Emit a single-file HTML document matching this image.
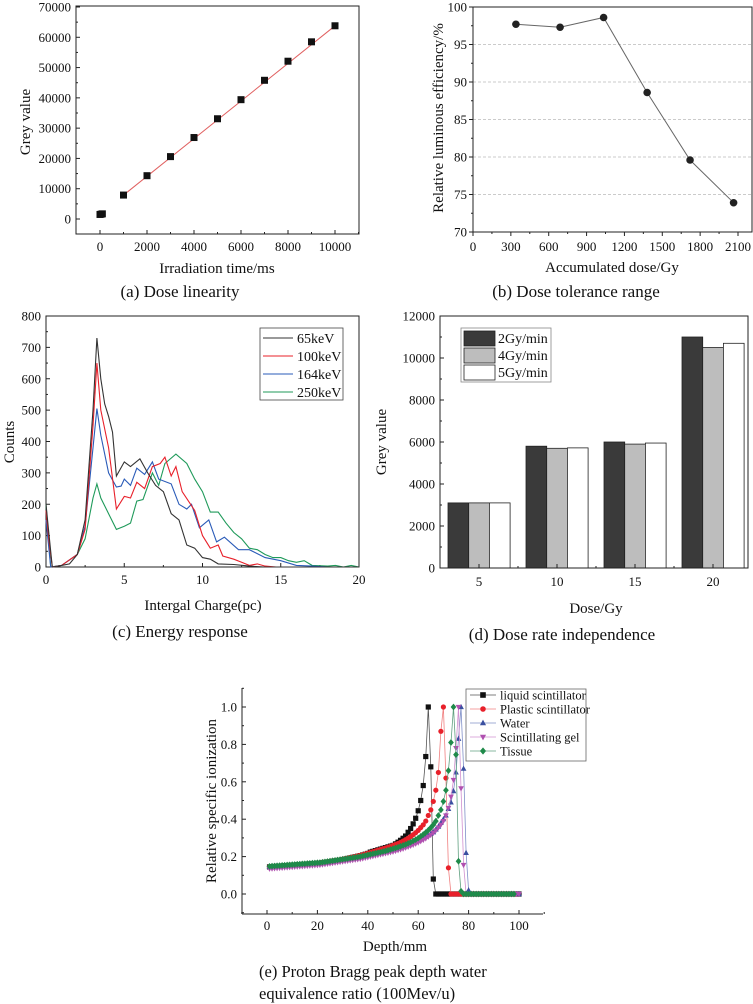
<!DOCTYPE html>
<html><head><meta charset="utf-8"><style>
html,body{margin:0;padding:0;background:#fff}
svg{display:block;font-family:"Liberation Serif",serif}
</style></head><body>
<svg id="fig" width="753" height="1004" viewBox="0 0 753 1004" xmlns="http://www.w3.org/2000/svg"></svg>
<script>
// ---- Panel (a) data ----
const aTime=[0,50,100,1000,2000,3000,4000,5000,6000,7000,8000,9000,10000];
const aGrey=[1500,1600,1700,7900,14300,20600,26900,33100,39400,45800,52100,58500,63800];
const aFitX=[1000,10000];
const aFitY=[7900,63800];
const aXTicks=[0,2000,4000,6000,8000,10000];
const aYTicks=[0,10000,20000,30000,40000,50000,60000,70000];
// ---- Panel (b) data ----
const bDose=[340,690,1035,1380,1720,2065];
const bEff=[97.7,97.3,98.6,88.6,79.6,73.9];
const bXTicks=[0,300,600,900,1200,1500,1800,2100];
const bYTicks=[70,75,80,85,90,95,100];
// ---- Panel (c) data ----
const cNames=["65keV","100keV","164keV","250keV"];
const c65x=[0,0.2,0.4,1,1.5,2,2.5,3,3.25,3.5,3.75,4,4.25,4.5,5,5.4,6,6.5,7,7.5,8,8.5,9,9.5,10,10.5,11,12,13,14,20];
const c65y=[200,100,0,5,10,40,150,500,730,600,520,480,430,290,335,320,345,300,260,240,170,150,70,60,30,25,10,8,3,0,0];
const c100x=[0,0.2,0.4,1,2,2.5,3,3.25,3.5,4,4.5,5,5.4,5.8,6.3,6.8,7.3,7.6,8,8.3,8.7,9.5,10,10.5,11,11.3,12,12.5,13,13.5,14,14.7,20];
const c100y=[180,80,0,5,40,120,450,650,500,380,185,225,220,270,250,320,330,350,290,320,240,180,100,60,70,35,25,15,5,10,3,0,0];
const c164x=[0,0.3,1,2,2.5,3,3.25,3.5,4,4.5,4.8,5,5.4,5.8,6.3,6.8,7.2,8,8.5,9,9.3,9.8,10.4,10.9,11.4,12.3,13,14,15,16,17,18,20];
const c164y=[150,0,5,40,130,380,505,420,300,255,258,280,260,315,295,335,280,265,200,185,200,125,150,80,95,55,55,30,20,5,3,0,0];
const c250x=[0,0.3,1,2,2.5,3,3.25,3.5,4,4.5,5,5.4,5.8,6.2,6.8,7.2,7.6,8.3,9,9.5,10,10.5,11,11.5,12,12.5,13,13.5,14,14.5,15,15.5,16,16.5,17,18,18.5,19,19.5,20];
const c250y=[200,0,5,40,90,220,265,220,170,120,130,140,210,215,300,260,330,360,330,280,240,175,175,140,110,90,60,55,40,30,30,20,15,20,5,3,5,0,5,0];
const cXTicks=[0,5,10,15,20];
const cYTicks=[0,100,200,300,400,500,600,700,800];
// ---- Panel (d) data ----
const dDose=[5,10,15,20];
const dRates=["2Gy/min","4Gy/min","5Gy/min"];
const d2=[3100,5800,6000,11000];
const d4=[3100,5700,5900,10500];
const d5=[3100,5720,5950,10700];
const dYTicks=[0,2000,4000,6000,8000,10000,12000];
// ---- Panel (e) data (depth 1..100 mm) ----
const eNames=["liquid scintillator","Plastic scintillator","Water","Scintillating gel","Tissue"];
const eLiquid=[0.145,0.146,0.147,0.148,0.149,0.150,0.151,0.152,0.153,0.154,0.155,0.156,0.157,0.158,0.159,0.160,0.161,0.162,0.163,0.164,0.165,0.167,0.169,0.171,0.173,0.175,0.177,0.179,0.181,0.184,0.187,0.190,0.193,0.196,0.199,0.202,0.205,0.209,0.213,0.217,0.224,0.228,0.232,0.236,0.240,0.244,0.248,0.252,0.256,0.260,0.268,0.277,0.287,0.298,0.31,0.33,0.35,0.375,0.405,0.445,0.5,0.58,0.735,1.0,0.68,0.08,0,0,0,0,0,0,0,0,0,0,0,0,0,0,0,0,0,0,0,0,0,0,0,0,0,0,0,0,0,0,0,0,0,0];
const ePlastic=[0.145,0.146,0.147,0.148,0.149,0.150,0.151,0.152,0.153,0.154,0.155,0.156,0.157,0.158,0.159,0.160,0.161,0.162,0.163,0.164,0.165,0.167,0.169,0.171,0.173,0.175,0.177,0.179,0.181,0.183,0.186,0.189,0.192,0.195,0.198,0.201,0.204,0.207,0.210,0.214,0.218,0.222,0.226,0.230,0.234,0.238,0.242,0.246,0.250,0.255,0.260,0.265,0.270,0.276,0.283,0.290,0.298,0.307,0.317,0.328,0.340,0.355,0.370,0.39,0.42,0.45,0.495,0.555,0.65,0.87,1.0,0.62,0.14,0,0,0,0,0,0,0,0,0,0,0,0,0,0,0,0,0,0,0,0,0,0,0,0,0,0,0].slice(1);
const eWater=[0.145,0.146,0.147,0.148,0.149,0.150,0.151,0.152,0.153,0.154,0.155,0.156,0.157,0.158,0.159,0.160,0.161,0.162,0.163,0.164,0.165,0.167,0.169,0.171,0.173,0.175,0.177,0.179,0.181,0.183,0.185,0.187,0.189,0.191,0.193,0.195,0.197,0.200,0.203,0.206,0.209,0.212,0.215,0.218,0.221,0.224,0.227,0.230,0.233,0.236,0.240,0.244,0.248,0.252,0.257,0.262,0.267,0.273,0.279,0.285,0.292,0.299,0.306,0.314,0.322,0.33,0.345,0.36,0.38,0.40,0.42,0.455,0.49,0.55,0.65,0.83,1.0,0.67,0.22,0.02,0,0,0,0,0,0,0,0,0,0,0,0,0,0,0,0,0,0,0,0].slice(0,100);
const eGel=[0.135,0.136,0.137,0.138,0.139,0.140,0.141,0.142,0.143,0.144,0.145,0.146,0.147,0.148,0.149,0.150,0.151,0.152,0.153,0.154,0.155,0.157,0.159,0.161,0.163,0.165,0.167,0.169,0.171,0.173,0.175,0.177,0.179,0.181,0.183,0.185,0.187,0.190,0.193,0.196,0.199,0.202,0.205,0.208,0.211,0.214,0.217,0.220,0.223,0.226,0.230,0.234,0.238,0.242,0.247,0.252,0.257,0.263,0.269,0.275,0.282,0.289,0.297,0.306,0.316,0.327,0.34,0.355,0.37,0.39,0.42,0.46,0.52,0.61,0.78,1.0,0.565,0.155,0,0,0,0,0,0,0,0,0,0,0,0,0,0,0,0,0,0,0,0,0,0].slice(0,100);
const eTissue=[0.148,0.149,0.150,0.151,0.152,0.153,0.154,0.155,0.156,0.157,0.158,0.159,0.160,0.161,0.162,0.163,0.164,0.165,0.166,0.167,0.168,0.170,0.172,0.174,0.176,0.178,0.180,0.182,0.184,0.186,0.188,0.190,0.192,0.194,0.196,0.198,0.200,0.203,0.206,0.209,0.212,0.215,0.218,0.221,0.224,0.227,0.230,0.234,0.238,0.242,0.246,0.250,0.255,0.260,0.265,0.271,0.277,0.284,0.291,0.299,0.308,0.318,0.329,0.341,0.355,0.37,0.39,0.42,0.45,0.495,0.555,0.66,0.81,1.0,0.745,0.175,0.015,0,0,0,0,0,0,0,0,0,0,0,0,0,0,0,0,0,0,0,0,0].slice(0,100);
const eDepth=Array.from({length:100},(_,i)=>i+1);
const eXTicks=[0,20,40,60,80,100];
const eYTicks=[0,0.2,0.4,0.6,0.8,1.0];

const NS="http://www.w3.org/2000/svg";
const svg=document.getElementById('fig');
function add(parent,tag,attrs,name,txt){
  const el=document.createElementNS(NS,tag);
  for(const k in attrs) el.setAttribute(k,attrs[k]);
  
  
  if(txt!==undefined) el.textContent=txt;
  parent.appendChild(el);
  return el;
}
function lin(d0,d1,r0,r1){return v=>r0+(v-d0)*(r1-r0)/(d1-d0);}
function group(name){return add(svg,'g',{},name);}
function text(g,x,y,s,name,size,anchor,extra){
  const a=Object.assign({x:x,y:y,'font-size':size,'text-anchor':anchor||'middle',fill:'#111'},extra||{});
  return add(g,'text',a,name,s);
}
function line(g,x1,y1,x2,y2,name,stroke,w,extra){
  return add(g,'line',Object.assign({x1,y1,x2,y2,stroke:stroke||'#222','stroke-width':w||1},extra||{}),name);
}
function box(g,l,t,r,b,name){add(g,'rect',{x:l,y:t,width:r-l,height:b-t,fill:'none',stroke:'#222','stroke-width':1},name);}
function poly(g,xs,ys,sx,sy,name,color,w){
  const pts=xs.map((v,i)=>sx(v).toFixed(1)+','+sy(ys[i]).toFixed(1)).join(' ');
  return add(g,'polyline',{points:pts,fill:'none',stroke:color,'stroke-width':w||1},name);
}

// ===== Panel (a) =====
(function(){
  const g=group('panel-a-dose-linearity');
  const sx=lin(0,10000,100,335), sy=lin(0,70000,219,7);
  box(g,76,6,359,234,'plot-frame');
  aYTicks.forEach(v=>{line(g,76,sy(v),80,sy(v),'y-tick');text(g,71,sy(v)+4.5,String(v),'y-tick-label',13,'end');});
  aYTicks.slice(0,-1).forEach(v=>line(g,76,sy(v+5000),78,sy(v+5000),'y-minor-tick'));
  aXTicks.forEach(v=>{line(g,sx(v),234,sx(v),230,'x-tick');text(g,sx(v),251,String(v),'x-tick-label',13);});
  aXTicks.forEach(v=>line(g,sx(v+1000),234,sx(v+1000),232,'x-minor-tick'));
  poly(g,aFitX,aFitY,sx,sy,'fit-line','#e06060',1);
  aTime.forEach((v,i)=>add(g,'rect',{x:sx(v)-3.5,y:sy(aGrey[i])-3.5,width:7,height:7,fill:'#111'},'data-point'));
  text(g,217,273,'Irradiation time/ms','x-axis-title',15);
  text(g,30,122,'Grey value','y-axis-title',15,'middle',{transform:'rotate(-90 30 122)'});
  text(g,180,297,'(a) Dose linearity','caption-a',17);
})();

// ===== Panel (b) =====
(function(){
  const g=group('panel-b-dose-tolerance');
  const sx=lin(0,2100,473,738), sy=lin(70,100,232,7);
  bYTicks.slice(1,-1).forEach(v=>line(g,473,sy(v),752,sy(v),'grid-line','#bbb',0.8,{'stroke-dasharray':'3,2'}));
  box(g,473,7,752,232,'plot-frame');
  bYTicks.forEach(v=>{line(g,473,sy(v),469,sy(v),'y-tick');text(g,467,sy(v)+4.5,String(v),'y-tick-label',13,'end');});
  bYTicks.slice(0,-1).forEach(v=>line(g,473,sy(v+2.5),471,sy(v+2.5),'y-minor-tick'));
  bXTicks.forEach(v=>{line(g,sx(v),232,sx(v),236,'x-tick');text(g,sx(v),251,String(v),'x-tick-label',13);});
  bXTicks.forEach(v=>line(g,sx(v+150),232,sx(v+150),234,'x-minor-tick'));
  poly(g,bDose,bEff,sx,sy,'efficiency-line','#666',1);
  bDose.forEach((v,i)=>add(g,'circle',{cx:sx(v),cy:sy(bEff[i]),r:3.8,fill:'#222'},'data-point'));
  text(g,612,272,'Accumulated dose/Gy','x-axis-title',15);
  text(g,443,118,'Relative luminous efficiency/%','y-axis-title',15,'middle',{transform:'rotate(-90 443 118)'});
  text(g,576,297,'(b) Dose tolerance range','caption-b',17);
})();

// ===== Panel (c) =====
(function(){
  const g=group('panel-c-energy-response');
  const sx=lin(0,20,46,359), sy=lin(0,800,567,316);
  box(g,46,316,359,567,'plot-frame');
  cYTicks.forEach(v=>{line(g,46,sy(v),50,sy(v),'y-tick');text(g,41,sy(v)+4.5,String(v),'y-tick-label',13,'end');});
  cYTicks.slice(0,-1).forEach(v=>line(g,46,sy(v+50),48,sy(v+50),'y-minor-tick'));
  cXTicks.forEach(v=>{line(g,sx(v),567,sx(v),563,'x-tick');text(g,sx(v),584,String(v),'x-tick-label',13);});
  cXTicks.slice(0,-1).forEach(v=>line(g,sx(v+2.5),567,sx(v+2.5),565,'x-minor-tick'));
  const cols=['#333','#e8202a','#2a5bb8','#1f9a5a'];
  const xs=[c65x,c100x,c164x,c250x], ys=[c65y,c100y,c164y,c250y];
  [3,2,1,0].forEach(i=>poly(g,xs[i],ys[i],sx,sy,'series-'+cNames[i],cols[i],1.1));
  add(g,'rect',{x:260,y:328,width:83,height:72,fill:'#fff',stroke:'#444','stroke-width':0.8},'legend-box');
  cNames.forEach((n,i)=>{const y=338+i*18;line(g,263,y,293,y,'legend-swatch',cols[i],1.1);text(g,297,y+5,n,'legend-entry',14,'start');});
  text(g,203,610,'Intergal Charge(pc)','x-axis-title',15);
  text(g,14,442,'Counts','y-axis-title',15,'middle',{transform:'rotate(-90 14 442)'});
  text(g,180,637,'(c) Energy response','caption-c',17);
})();

// ===== Panel (d) =====
(function(){
  const g=group('panel-d-dose-rate');
  const sx=lin(5,20,479,713), sy=lin(0,12000,568,316);
  const series=[d2,d4,d5], fills=['#3a3a3a','#bdbdbd','#ffffff'];
  const bw=20.7;
  dDose.forEach((c,ci)=>series.forEach((s,si)=>{
    const x=sx(c)-31+si*bw;
    add(g,'rect',{x:x,y:sy(s[ci]),width:bw,height:sy(0)-sy(s[ci]),fill:fills[si],stroke:'#222','stroke-width':0.8},'bar-'+dRates[si]+'-'+c);
  }));
  box(g,440,316,748,568,'plot-frame');
  dYTicks.forEach(v=>{line(g,440,sy(v),444,sy(v),'y-tick');text(g,435,sy(v)+4.5,String(v),'y-tick-label',13,'end');});
  dYTicks.slice(0,-1).forEach(v=>line(g,440,sy(v+1000),442,sy(v+1000),'y-minor-tick'));
  dDose.forEach(v=>{line(g,sx(v),568,sx(v),564,'x-tick');text(g,sx(v),586,String(v),'x-tick-label',13);});
  [7.5,12.5,17.5].forEach(v=>line(g,sx(v),568,sx(v),566,'x-minor-tick'));
  add(g,'rect',{x:461,y:328,width:90,height:54,fill:'#fff',stroke:'#888','stroke-width':0.8},'legend-box');
  dRates.forEach((n,i)=>{const y=331+i*17;add(g,'rect',{x:464,y:y,width:31,height:15,fill:fills[i],stroke:'#222','stroke-width':0.8},'legend-swatch');text(g,498,y+12,n,'legend-entry',14,'start');});
  text(g,596,613,'Dose/Gy','x-axis-title',15);
  text(g,386,442,'Grey value','y-axis-title',15,'middle',{transform:'rotate(-90 386 442)'});
  text(g,562,640,'(d) Dose rate independence','caption-d',17);
})();

// ===== Panel (e) =====
(function(){
  const g=group('panel-e-bragg-peak');
  const sx=lin(0,100,267,519), sy=lin(0,1,894,707);
  line(g,242,688,242,914,'y-axis-line');
  line(g,242,914,543,914,'x-axis-line');
  eYTicks.forEach(v=>{line(g,242,sy(v),246,sy(v),'y-tick');text(g,237,sy(v)+4.5,v.toFixed(1),'y-tick-label',13,'end');});
  [-0.1,0.1,0.3,0.5,0.7,0.9,1.1].forEach(v=>line(g,242,sy(v),244,sy(v),'y-minor-tick'));
  eXTicks.forEach(v=>{line(g,sx(v),914,sx(v),910,'x-tick');text(g,sx(v),930,String(v),'x-tick-label',13);});
  [-10,10,30,50,70,90,110].forEach(v=>line(g,sx(v),914,sx(v),912,'x-minor-tick'));
  const data=[eLiquid,ePlastic,eWater,eGel,eTissue];
  const cols=['#111','#e8202a','#3a4fa0','#b050b0','#1f8a4a'];
  const lcols=['#555','#f08080','#8090c8','#d090d0','#60a080'];
  function marker(gp,k,x,y,r,nm){
    if(k===0) return add(gp,'rect',{x:x-r,y:y-r,width:2*r,height:2*r,fill:cols[k]},nm);
    if(k===1) return add(gp,'circle',{cx:x,cy:y,r:r,fill:cols[k]},nm);
    if(k===2) return add(gp,'polygon',{points:`${x},${y-r*1.2} ${x-r*1.1},${y+r*0.8} ${x+r*1.1},${y+r*0.8}`,fill:cols[k]},nm);
    if(k===3) return add(gp,'polygon',{points:`${x},${y+r*1.2} ${x-r*1.1},${y-r*0.8} ${x+r*1.1},${y-r*0.8}`,fill:cols[k]},nm);
    return add(gp,'polygon',{points:`${x},${y-r*1.3} ${x+r*1.1},${y} ${x},${y+r*1.3} ${x-r*1.1},${y}`,fill:cols[k]},nm);
  }
  data.forEach((s,k)=>{
    const sg=add(g,'g',{},'series-'+eNames[k].replace(/ /g,'-'));
    poly(sg,eDepth,s,sx,sy,'series-line',lcols[k],0.8);
    s.forEach((v,i)=>marker(sg,k,sx(eDepth[i]),sy(v),2.6,'data-point'));
  });
  add(g,'rect',{x:466,y:689,width:120,height:72,fill:'#fff',stroke:'#666','stroke-width':0.8},'legend-box');
  eNames.forEach((n,k)=>{const y=695+k*14;line(g,470,y,496,y,'legend-swatch',lcols[k],0.8);marker(g,k,483,y,2.8,'legend-marker');text(g,500,y+4.5,n,'legend-entry',12.5,'start');});
  text(g,395,951,'Depth/mm','x-axis-title',15);
  text(g,216,801,'Relative specific ionization','y-axis-title',15,'middle',{transform:'rotate(-90 216 801)'});
  text(g,259,977,'(e) Proton Bragg peak depth water','caption-e-line1',16.5,'start');
  text(g,259,999,'equivalence ratio (100Mev/u)','caption-e-line2',16.5,'start');
})();
</script>
</body></html>
